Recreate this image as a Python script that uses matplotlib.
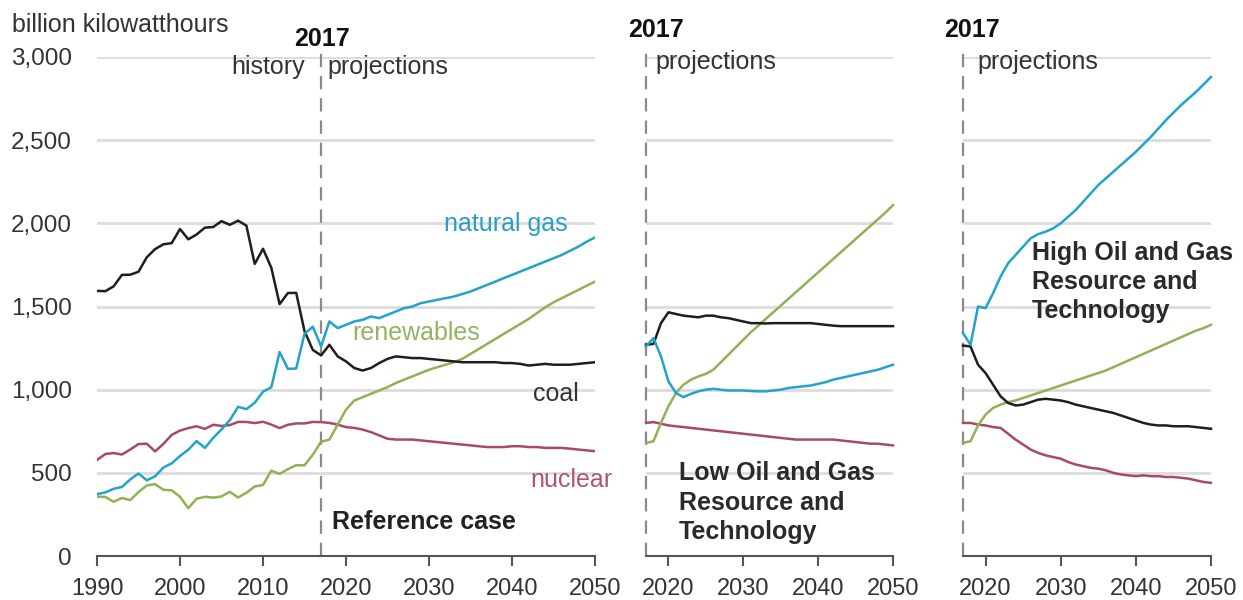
import numpy as np
import matplotlib
matplotlib.use("Agg")
import matplotlib.pyplot as plt

plt.rcParams["font.family"] = ["Liberation Sans", "DejaVu Sans"]

# Electricity generation by fuel, billion kilowatthours
hist_years = np.arange(1990, 2018)
proj_years = np.arange(2018, 2051)
case_years = np.arange(2017, 2051)

coal_hist = [1594, 1592, 1621, 1690, 1691, 1709, 1796, 1845, 1874, 1881, 1966, 1904, 1933, 1974,
             1978, 2013, 1991, 2016, 1986, 1756, 1847, 1733, 1514, 1581, 1582, 1352, 1239, 1206]
gas_hist = [372, 382, 404, 415, 460, 496, 455, 479, 532, 557, 601, 639, 691, 650,
            710, 761, 816, 897, 883, 921, 988, 1014, 1226, 1125, 1127, 1335, 1379, 1260]
renew_hist = [357, 355, 326, 349, 336, 385, 424, 432, 398, 395, 356, 287, 344, 356,
              351, 358, 386, 352, 380, 418, 427, 513, 494, 522, 546, 545, 609, 687]
nuclear_hist = [577, 613, 619, 610, 640, 673, 675, 629, 674, 728, 754, 769, 780, 764,
                789, 782, 787, 806, 806, 799, 807, 790, 769, 789, 797, 797, 806, 805]

# Reference case projections, 2018-2050
coal_ref = [1270, 1200, 1170, 1130, 1115, 1130, 1160, 1185, 1200, 1195, 1190, 1190, 1185, 1180,
            1175, 1170, 1165, 1165, 1165, 1165, 1165, 1160, 1160, 1155, 1145, 1150, 1155, 1150,
            1150, 1150, 1155, 1160, 1165]
gas_ref = [1410, 1370, 1390, 1410, 1420, 1440, 1430, 1450, 1470, 1490, 1500, 1520, 1530, 1540,
           1550, 1560, 1575, 1590, 1610, 1630, 1650, 1670, 1690, 1710, 1730, 1750, 1770, 1790,
           1810, 1835, 1860, 1890, 1915]
renew_ref = [700, 790, 880, 935, 955, 975, 995, 1015, 1040, 1060, 1080, 1100, 1120, 1135,
             1150, 1165, 1185, 1215, 1245, 1275, 1305, 1335, 1365, 1395, 1425, 1460, 1495, 1525,
             1550, 1575, 1600, 1625, 1650]
nuclear_ref = [800, 790, 775, 770, 760, 745, 725, 705, 700, 700, 700, 695, 690, 685,
               680, 675, 670, 665, 660, 655, 655, 655, 660, 660, 655, 655, 650, 650,
               650, 645, 640, 635, 630]

# Low Oil and Gas Resource and Technology, 2017-2050
coal_low = [1270, 1275, 1400, 1465, 1455, 1445, 1440, 1435, 1445, 1445, 1435, 1430, 1420, 1410,
            1400, 1400, 1398, 1400, 1400, 1400, 1400, 1400, 1400, 1395, 1390, 1385, 1382, 1382,
            1382, 1382, 1382, 1382, 1382, 1382]
gas_low = [1260, 1310, 1200, 1050, 980, 955, 975, 990, 1000, 1005, 1000, 995, 995, 995,
           992, 990, 990, 995, 1000, 1010, 1015, 1020, 1025, 1035, 1045, 1060, 1070, 1080,
           1090, 1100, 1110, 1120, 1135, 1150]
renew_low = [680, 690, 800, 900, 980, 1030, 1060, 1080, 1095, 1120, 1165, 1210, 1255, 1300,
             1345, 1385, 1425, 1465, 1505, 1545, 1585, 1625, 1665, 1705, 1745, 1785, 1825, 1865,
             1905, 1945, 1985, 2025, 2065, 2110]
nuclear_low = [800, 805, 795, 785, 780, 775, 770, 765, 760, 755, 750, 745, 740, 735,
               730, 725, 720, 715, 710, 705, 700, 700, 700, 700, 700, 700, 695, 690,
               685, 680, 675, 675, 670, 665]

# High Oil and Gas Resource and Technology, 2017-2050
coal_high = [1265, 1260, 1150, 1100, 1030, 960, 920, 905, 910, 925, 940, 945, 940, 935,
             925, 910, 900, 890, 880, 870, 860, 845, 830, 815, 800, 790, 785, 785,
             780, 780, 780, 775, 770, 765]
gas_high = [1340, 1270, 1500, 1490, 1580, 1680, 1760, 1810, 1860, 1910, 1935, 1950, 1970, 2000,
            2040, 2080, 2130, 2180, 2230, 2270, 2310, 2350, 2390, 2430, 2475, 2520, 2570, 2620,
            2665, 2710, 2750, 2790, 2835, 2880]
renew_high = [680, 690, 785, 850, 890, 910, 925, 935, 950, 965, 980, 995, 1010, 1025,
              1040, 1055, 1070, 1085, 1100, 1115, 1135, 1155, 1175, 1195, 1215, 1235, 1255, 1275,
              1295, 1315, 1335, 1355, 1370, 1390]
nuclear_high = [800, 800, 790, 785, 775, 770, 735, 700, 670, 640, 620, 605, 595, 585,
                565, 550, 540, 530, 525, 515, 500, 490, 485, 480, 485, 480, 480, 475,
                475, 470, 465, 455, 445, 440]

y_ticks = [0, 500, 1000, 1500, 2000, 2500, 3000]
y_labels = ["0", "500", "1,000", "1,500", "2,000", "2,500", "3,000"]

C_COAL = "#1e1e1e"
C_GAS = "#22a3cb"
C_RENEW = "#8fb254"
C_NUC = "#a84a62"
TXT = "#333333"
LW = 1.8
FS = 18

fig = plt.figure(figsize=(12.43, 6.0), dpi=100)
ax1 = fig.add_axes([0.07804, 0.07333, 0.40064, 0.83167])
ax2 = fig.add_axes([0.51971, 0.07333, 0.19871, 0.83167])
ax3 = fig.add_axes([0.77474, 0.07333, 0.19952, 0.83167])


def style(ax, x0, ticks):
    ax.set_xlim(x0, 2050)
    ax.set_ylim(0, 3000)
    for s in ["top", "right", "left"]:
        ax.spines[s].set_visible(False)
    ax.spines["bottom"].set_color("#555555")
    ax.spines["bottom"].set_linewidth(1.5)
    ax.set_xticks(ticks)
    ax.set_xticklabels([str(t) for t in ticks])
    ax.tick_params(axis="x", direction="out", length=7, width=1.5, color="#555555",
                   labelsize=17, labelcolor=TXT, pad=9)
    ax.set_yticks(y_ticks)
    ax.yaxis.grid(True, color="#dcdcdc", linewidth=2)
    ax.set_axisbelow(True)
    ax.plot([2017, 2017], [0, 3050], color="#8a8a8a", lw=1.6, ls=(0, (6, 4)),
            clip_on=False, zorder=1)


style(ax1, 1990, [1990, 2000, 2010, 2020, 2030, 2040, 2050])
ax1.set_yticklabels(y_labels)
ax1.tick_params(axis="y", length=0, labelsize=17.5, labelcolor=TXT, pad=18)
for ax in (ax2, ax3):
    style(ax, 2017, [2020, 2030, 2040, 2050])
    ax.tick_params(axis="y", length=0, labelleft=False)

# reference case: history joined to projections
ref_years = np.concatenate([hist_years, proj_years])
ax1.plot(ref_years, nuclear_hist + nuclear_ref, color=C_NUC, lw=LW)
ax1.plot(ref_years, renew_hist + renew_ref, color=C_RENEW, lw=LW)
ax1.plot(ref_years, coal_hist + coal_ref, color=C_COAL, lw=LW)
ax1.plot(ref_years, gas_hist + gas_ref, color=C_GAS, lw=LW)

for ax, coal, gas, renew, nuc in [(ax2, coal_low, gas_low, renew_low, nuclear_low),
                                  (ax3, coal_high, gas_high, renew_high, nuclear_high)]:
    ax.plot(case_years, nuc, color=C_NUC, lw=LW, clip_on=False)
    ax.plot(case_years, renew, color=C_RENEW, lw=LW, clip_on=False)
    ax.plot(case_years, coal, color=C_COAL, lw=LW, clip_on=False)
    ax.plot(case_years, gas, color=C_GAS, lw=LW, clip_on=False)

# headers
fig.text(12 / 1243, 1 - 25 / 600, "billion kilowatthours", fontsize=FS, color=TXT,
         ha="left", va="center")
ax1.text(2017.1, 3110, "2017", fontsize=FS, fontweight="bold", color="#111111",
         ha="center", va="center")
ax1.text(2015.0, 2940, "history", fontsize=FS, color=TXT, ha="right", va="center")
ax1.text(2017.8, 2940, "projections", fontsize=FS, color=TXT, ha="left", va="center")
for ax, x_yr, x_pr in [(ax2, 2014.6, 2018.2), (ax3, 2014.5, 2018.9)]:
    ax.text(x_yr, 3160, "2017", fontsize=FS, fontweight="bold", color="#111111",
            ha="left", va="center")
    ax.text(x_pr, 2970, "projections", fontsize=FS, color=TXT, ha="left", va="center")

# series labels
ax1.text(2039.2, 1994, "natural gas", fontsize=FS, color="#2a9fc6", ha="center", va="center")
ax1.text(2028.4, 1343, "renewables", fontsize=FS, color="#8fb560", ha="center", va="center")
ax1.text(2045.3, 976, "coal", fontsize=FS, color="#333333", ha="center", va="center")
ax1.text(2047.1, 458, "nuclear", fontsize=FS, color="#b0566c", ha="center", va="center",
         clip_on=False)

# case titles
ax1.text(2018.3, 205, "Reference case", fontsize=FS, fontweight="bold", color="#222222",
         ha="left", va="center")
ax2.text(2021.4, 570, "Low Oil and Gas\nResource and\nTechnology", fontsize=FS,
         fontweight="bold", color="#2a2a2a", ha="left", va="top", linespacing=1.28)
ax3.text(2026.2, 1895, "High Oil and Gas\nResource and\nTechnology", fontsize=FS,
         fontweight="bold", color="#2a2a2a", ha="left", va="top", linespacing=1.28)

fig.savefig("out.png", dpi=100, facecolor="white")
